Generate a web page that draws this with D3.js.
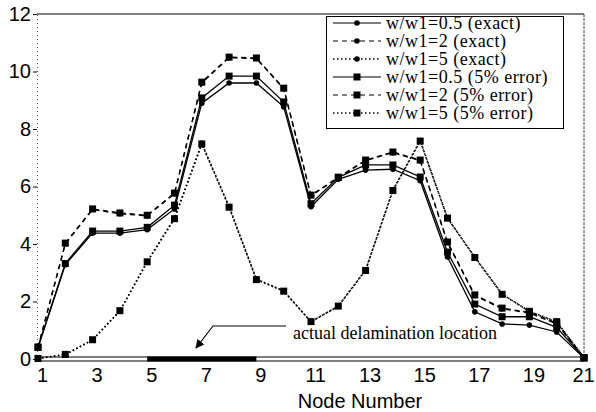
<!DOCTYPE html>
<html>
<head>
<meta charset="utf-8">
<script src="https://cdn.jsdelivr.net/npm/d3@7"></script>
<style>
body { margin: 0; background: #fff; }
#vis { width: 596px; height: 412px; }
</style>
</head>
<body>
<div id="vis"></div>
<script>
// data
var nodes = [1, 2, 3, 4, 5, 6, 7, 8, 9, 10, 11, 12, 13, 14, 15, 16, 17, 18, 19, 20, 21];
var w05Exact = [0.4, 3.28, 4.38, 4.38, 4.5, 5.22, 8.9, 9.6, 9.6, 8.77, 5.3, 6.25, 6.57, 6.6, 6.2, 3.55, 1.64, 1.22, 1.18, 0.94, 0.03];
var w2Exact = [0.4, 4.0, 5.2, 5.05, 4.98, 5.75, 9.6, 10.48, 10.45, 9.4, 5.68, 6.3, 6.9, 7.18, 6.9, 4.05, 2.2, 1.75, 1.6, 1.22, 0.05];
var w5Exact = [0.02, 0.15, 0.66, 1.67, 3.38, 4.9, 7.5, 5.3, 2.78, 2.37, 1.29, 1.84, 3.1, 5.88, 7.6, 4.9, 3.55, 2.26, 1.65, 1.28, 0.05];
var w05Error = [0.42, 3.32, 4.45, 4.45, 4.58, 5.35, 9.08, 9.84, 9.84, 8.94, 5.4, 6.32, 6.75, 6.75, 6.33, 3.72, 1.91, 1.47, 1.47, 1.1, 0.03];
var w2Error = [0.4, 4.03, 5.22, 5.08, 5.0, 5.77, 9.63, 10.5, 10.47, 9.42, 5.7, 6.32, 6.92, 7.2, 6.92, 4.07, 2.23, 1.77, 1.62, 1.25, 0.05];
var w5Error = [0.02, 0.16, 0.67, 1.68, 3.38, 4.88, 7.48, 5.28, 2.76, 2.36, 1.3, 1.84, 3.08, 5.86, 7.58, 4.9, 3.53, 2.25, 1.66, 1.3, 0.05];
var seriesNames = ['w/w1=0.5 (exact)', 'w/w1=2 (exact)', 'w/w1=5 (exact)',
    'w/w1=0.5 (5% error)', 'w/w1=2 (5% error)', 'w/w1=5 (5% error)'];
var xTicks = [1, 3, 5, 7, 9, 11, 13, 15, 17, 19, 21];
var yTicks = [0, 2, 4, 6, 8, 10, 12];
var delamStart = 5, delamEnd = 9;

var width = 596, height = 412;
var margin = { top: 14, bottom: 53, left: 37, right: 12 };

var svg = d3.select('#vis')
    .append('svg')
    .attr('width', width)
    .attr('height', height);

var x_scale = d3.scaleLinear()
    .domain([1, 21])
    .range([margin.left + 1, width - margin.right]);

var y_scale = d3.scaleLinear()
    .domain([0, 12])
    .range([height - margin.bottom, margin.top]);

var dashes = ['none', '5,4', '1.5,2.5'];
var series = [
    { name: seriesNames[0], values: w05Exact, dash: dashes[0], marker: 'circle' },
    { name: seriesNames[1], values: w2Exact, dash: dashes[1], marker: 'circle' },
    { name: seriesNames[2], values: w5Exact, dash: dashes[2], marker: 'circle' },
    { name: seriesNames[3], values: w05Error, dash: dashes[0], marker: 'square' },
    { name: seriesNames[4], values: w2Error, dash: dashes[1], marker: 'square' },
    { name: seriesNames[5], values: w5Error, dash: dashes[2], marker: 'square' }
];

// frame: top and right
svg.append('line')
    .attr('x1', margin.left).attr('x2', x_scale(21))
    .attr('y1', y_scale(12)).attr('y2', y_scale(12))
    .attr('stroke', '#000').attr('stroke-width', 1.2);
svg.append('line')
    .attr('x1', x_scale(21)).attr('x2', x_scale(21))
    .attr('y1', y_scale(12)).attr('y2', y_scale(0))
    .attr('stroke', '#444').attr('stroke-width', 1).attr('stroke-dasharray', '3,1');

// y axis
var y_axis = d3.axisLeft(y_scale).tickValues(yTicks).tickSize(4).tickPadding(2).tickFormat(d3.format('d'));
var gy = svg.append('g')
    .attr('transform', 'translate(' + margin.left + ',0)')
    .call(y_axis);
gy.select('.domain').attr('stroke', '#555').attr('stroke-dasharray', '1,3');
gy.selectAll('text').style('font', '20px "Liberation Sans", Arial, sans-serif').attr('fill', '#000');

// x axis
var x_axis = d3.axisBottom(x_scale).tickValues(xTicks).tickSize(0).tickPadding(9).tickFormat(d3.format('d'));
var gx = svg.append('g')
    .attr('transform', 'translate(0,' + y_scale(0) + ')')
    .call(x_axis);
gx.select('.domain').remove();
gx.selectAll('text')
    .attr('dx', function(d) { return d === 21 ? -1 : 4; })
    .style('font', '20px "Liberation Sans", Arial, sans-serif')
    .attr('fill', '#000');

// bottom beam with delamination region
svg.append('rect')
    .attr('x', margin.left).attr('y', y_scale(0) - 2)
    .attr('width', x_scale(21) - margin.left).attr('height', 4)
    .attr('fill', '#fff').attr('stroke', '#000').attr('stroke-width', 1);
svg.append('rect')
    .attr('x', x_scale(delamStart)).attr('y', y_scale(0) - 2.5)
    .attr('width', x_scale(delamEnd) - x_scale(delamStart)).attr('height', 5)
    .attr('fill', '#000');

svg.append('text')
    .attr('x', 360).attr('y', 408)
    .attr('text-anchor', 'middle')
    .style('font', '20px "Liberation Sans", Arial, sans-serif')
    .text('Node Number');

// lines
var line = d3.line()
    .x(function(d, i) { return x_scale(nodes[i]); })
    .y(function(d) { return y_scale(d); });

series.forEach(function(s) {
    svg.append('path')
        .datum(s.values)
        .attr('d', line)
        .attr('fill', 'none')
        .attr('stroke', '#000')
        .attr('stroke-width', s.dash === dashes[2] ? 1.6 : 1.3)
        .attr('stroke-dasharray', s.dash);
});

function drawMarker(g, type, cx, cy) {
    if (type === 'circle') {
        g.append('circle').attr('cx', cx).attr('cy', cy).attr('r', 2.8).attr('fill', '#000');
    } else {
        g.append('rect').attr('x', cx - 3.5).attr('y', cy - 3.5).attr('width', 7).attr('height', 7).attr('fill', '#000');
    }
}

series.forEach(function(s) {
    var g = svg.append('g');
    s.values.forEach(function(v, i) {
        drawMarker(g, s.marker, x_scale(nodes[i]), y_scale(v));
    });
});

// annotation
svg.append('defs').append('marker')
    .attr('id', 'arrow')
    .attr('viewBox', '0 0 10 10')
    .attr('refX', 9).attr('refY', 5)
    .attr('markerWidth', 9).attr('markerHeight', 9)
    .attr('markerUnits', 'userSpaceOnUse')
    .attr('orient', 'auto')
    .append('path')
    .attr('d', 'M0,0 L10,5 L0,10 z')
    .attr('fill', '#000');

svg.append('polyline')
    .attr('points', '286,326 213,326 196,348')
    .attr('fill', 'none')
    .attr('stroke', '#000')
    .attr('stroke-width', 1.2)
    .attr('marker-end', 'url(#arrow)');

svg.append('text')
    .attr('x', 293).attr('y', 339)
    .style('font', '18px "Liberation Serif", "Times New Roman", serif')
    .text('actual delamination location');

// legend
var legend = svg.append('g');
legend.append('rect')
    .attr('x', 326.5).attr('y', 16.5)
    .attr('width', 237).attr('height', 112)
    .attr('fill', '#fff').attr('stroke', '#000').attr('stroke-width', 1);

series.forEach(function(s, i) {
    var base = 29 + i * 18;
    legend.append('line')
        .attr('x1', 333).attr('x2', 381)
        .attr('y1', base - 6).attr('y2', base - 6)
        .attr('stroke', '#000')
        .attr('stroke-width', s.dash === dashes[2] ? 1.4 : 1.2)
        .attr('stroke-dasharray', s.dash);
    drawMarker(legend, s.marker, 357, base - 6);
    legend.append('text')
        .attr('x', 386).attr('y', base)
        .style('font', '18px "Liberation Serif", "Times New Roman", serif')
        .style('letter-spacing', '0.5px')
        .text(s.name);
});
</script>
</body>
</html>
